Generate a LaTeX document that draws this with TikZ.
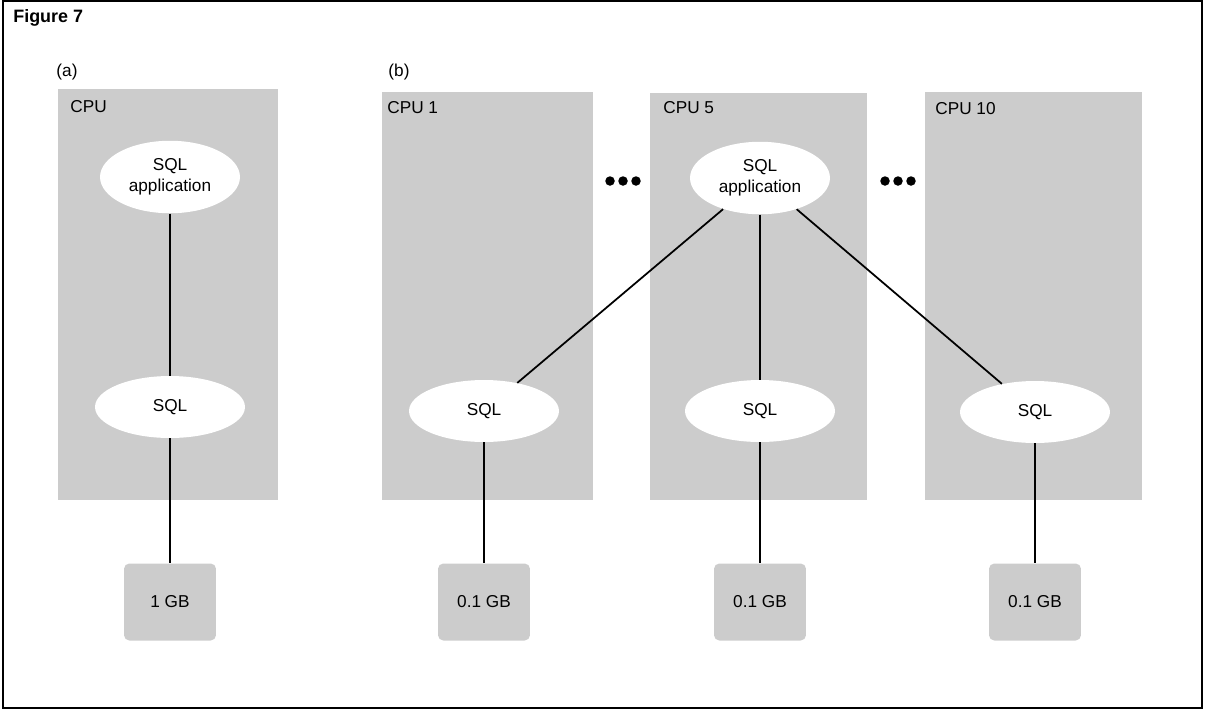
\documentclass[tikz,border=0pt]{standalone}
\usepackage{fontspec}
\setmainfont{Liberation Sans}
\usetikzlibrary{shapes.geometric}

\begin{document}
\begin{tikzpicture}[x=0.02cm, y=-0.02cm,
    cpufill/.style={fill=black!20},
    txt/.style={font=\fontsize{9.8}{12}\selectfont},
    cpulabel/.style={txt, anchor=north west, inner sep=0pt},
    sqlnode/.style={ellipse, fill=white, txt, inner sep=0pt,
                minimum width=3cm, minimum height=1.24cm, align=center},
    appnode/.style={sqlnode, minimum width=2.8cm, minimum height=1.45cm},
    membox/.style={rounded corners=3pt, fill=black!20, txt,
                minimum width=1.84cm, minimum height=1.54cm},
    link/.style={line width=1pt}
  ]
  \useasboundingbox (0,0) rectangle (1205,711);
  \draw[line width=1pt] (3,1) rectangle (1202,708);
  \node[font=\bfseries\fontsize{10.2}{12}\selectfont, anchor=north west, inner sep=0pt]
    (title) at (13,9) {Figure 7};
  \node[txt] (parta) at (67,72) {(a)};
  \node[txt] (partb) at (399,72) {(b)};

  % processor areas
  \fill[cpufill] (58,89) rectangle (278,500);
  \fill[cpufill] (382,92) rectangle (593,500);
  \fill[cpufill] (650,93) rectangle (867,500);
  \fill[cpufill] (925,92) rectangle (1142,500);
  \node[cpulabel] (cpua) at (70,100) {CPU};
  \node[cpulabel] (cpuone) at (387,101) {CPU 1};
  \node[cpulabel] (cpufive) at (663,101) {CPU 5};
  \node[cpulabel] (cputen) at (935,102) {CPU 10};

  \foreach \cx/\nm in {623/dotsl, 898/dotsr}
    \node[inner sep=0pt, minimum size=0.2cm] (\nm) at (\cx,181) {};
  \foreach \nm in {dotsl, dotsr}
    \foreach \d in {-0.26cm, 0cm, 0.26cm}
      \fill ([xshift=\d]\nm.center) circle (0.095cm);

  % (a)
  \node[appnode] (appa) at (170,177) {SQL\\application};
  \node[sqlnode] (sqla) at (170,407) {SQL};
  \node[membox] (mema) at (170,602) {1 GB};
  \draw[link] (appa) -- (sqla);
  \draw[link] (sqla) -- (mema);

  % (b)
  \node[appnode] (appb) at (760,178) {SQL\\application};
  \node[sqlnode] (sqlone) at (484,411) {SQL};
  \node[sqlnode] (sqlfive) at (760,411) {SQL};
  \node[sqlnode] (sqlten) at (1035,412) {SQL};
  \node[membox] (memone) at (484,602) {0.1 GB};
  \node[membox] (memfive) at (760,602) {0.1 GB};
  \node[membox] (memten) at (1035,602) {0.1 GB};
  \foreach \s/\m in {sqlone/memone, sqlfive/memfive, sqlten/memten} {
    \draw[link] (appb) -- (\s);
    \draw[link] (\s) -- (\m);
  }
\end{tikzpicture}
\end{document}
